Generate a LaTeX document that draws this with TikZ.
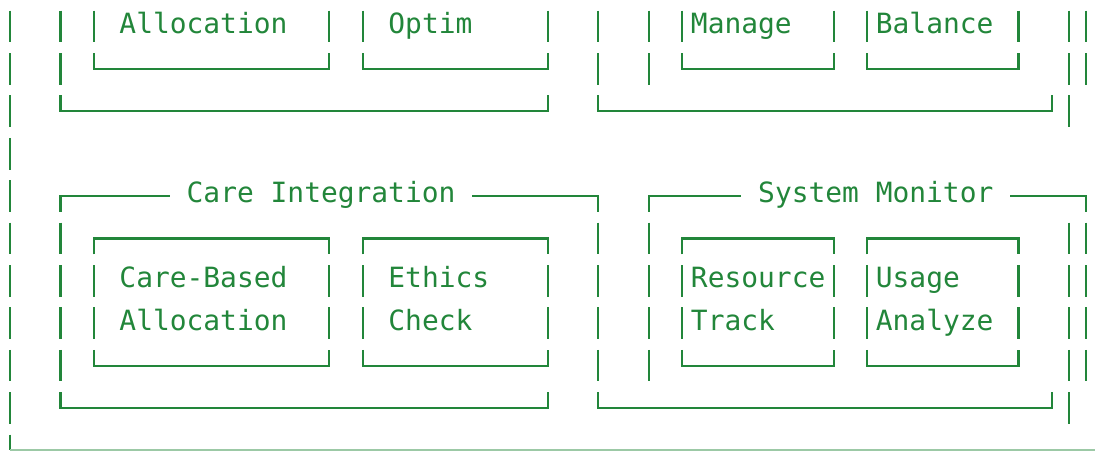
\documentclass[tikz,border=0pt]{standalone}
\usepackage{fontspec}
\setmonofont{DejaVu Sans Mono}
\usepackage{tikz}
\usepackage{xcolor}
\definecolor{termgreen}{RGB}{34,134,58}

\begin{document}
\begin{tikzpicture}[x=16.81pt, y=-42.4pt,
  frame/.style={draw=termgreen, line width=2.2pt},
  lbl/.style={anchor=base west, inner sep=0pt, text=termgreen,
    font=\ttfamily\fontsize{27.9}{34}\selectfont}]
\useasboundingbox (-0.595,-0.625) rectangle (64.548,10.012);

% vertical bars, one per text line (column / rows)
\foreach \c/\rs in {0/{0,1,2,3,4,5,6,7,8,9}, 3/{0,1,5,6,7,8}, 5/{0,6,7},
    19/{0,6,7}, 21/{0,6,7}, 32/{0,6,7}, 35/{0,1,5,6,7,8}, 38/{0,1,5,6,7,8},
    40/{0,6,7}, 49/{0,6,7}, 51/{0,6,7}, 60/{0,6,7},
    63/{0,1,2,5,6,7,8,9}, 64/{0,1,5,6,7,8}} {
  \foreach \r in \rs {
    \draw[frame] (\c,\r-0.373) -- (\c,\r+0.373);
  }
}

% box bottoms
\foreach \r/\a/\b in {1/5/19, 1/21/32, 1/40/49, 1/51/60, 2/3/32, 2/35/62,
    8/5/19, 8/21/32, 8/40/49, 8/51/60, 9/3/32, 9/35/62} {
  \draw[frame] (\a,\r-0.373) -- (\a,\r) -- (\b,\r) -- (\b,\r-0.373);
}

% box tops
\foreach \a/\b in {5/19, 21/32, 40/49, 51/60} {
  \draw[frame] (\a,5.373) -- (\a,5) -- (\b,5) -- (\b,5.373);
}

% group tops with titles
\draw[frame] (3,4.373) -- (3,4) -- (9.5,4);
\draw[frame] (27.5,4) -- (35,4) -- (35,4.373);
\draw[frame] (38,4.373) -- (38,4) -- (43.5,4);
\draw[frame] (59.5,4) -- (64,4) -- (64,4.373);

% outer frame bottom (cut by the edge)
\draw[frame] (0,9.627) -- (0,10);
\draw[frame, draw=termgreen!45] (0,10) -- (66,10);

% labels
\node[lbl] (allocTop) at (6.5,0.16) {Allocation};
\node[lbl] (optim) at (22.5,0.16) {Optim};
\node[lbl] (manage) at (40.5,0.16) {Manage};
\node[lbl] (balance) at (51.5,0.16) {Balance};
\node[lbl] (careInt) at (10.5,4.16) {Care Integration};
\node[lbl] (sysMon) at (44.5,4.16) {System Monitor};
\node[lbl] (careBased) at (6.5,6.16) {Care-Based};
\node[lbl] (ethics) at (22.5,6.16) {Ethics};
\node[lbl] (resource) at (40.5,6.16) {Resource};
\node[lbl] (usage) at (51.5,6.16) {Usage};
\node[lbl] (alloc) at (6.5,7.16) {Allocation};
\node[lbl] (check) at (22.5,7.16) {Check};
\node[lbl] (track) at (40.5,7.16) {Track};
\node[lbl] (analyze) at (51.5,7.16) {Analyze};
\end{tikzpicture}
\end{document}
